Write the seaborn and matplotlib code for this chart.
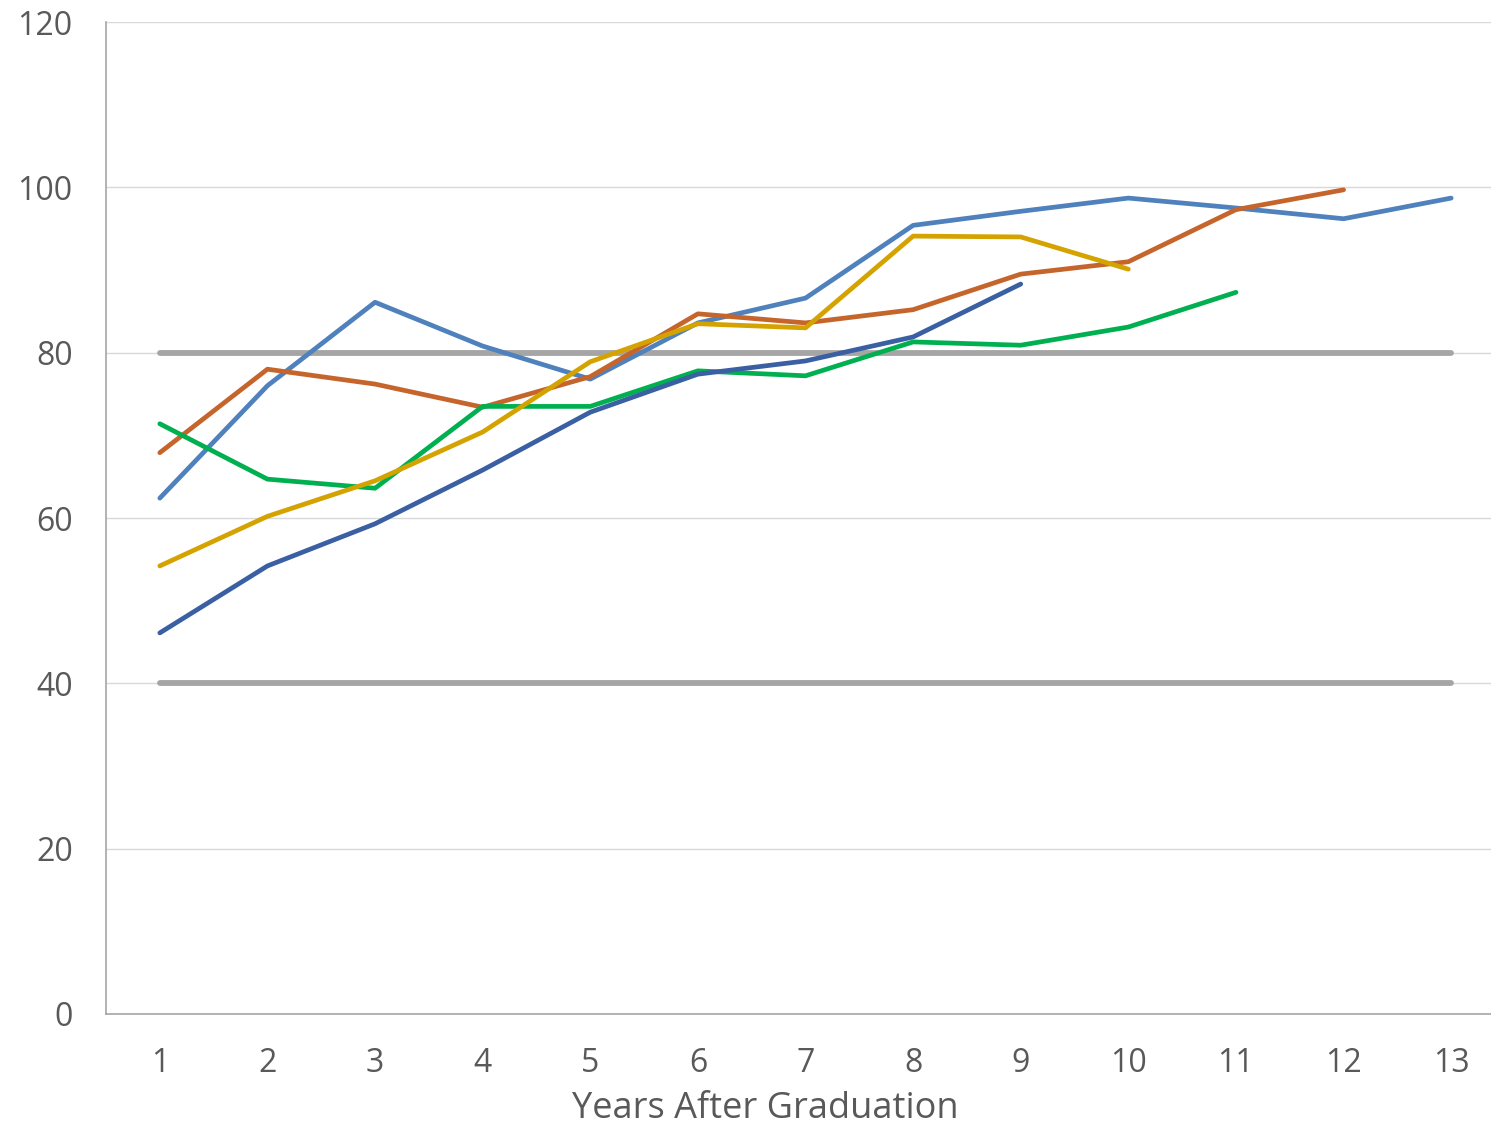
import pandas as pd
import seaborn as sns
import matplotlib.pyplot as plt

# valeurs
years = list(range(1, 14))
light_blue = [62.4, 76.0, 86.1, 80.8, 76.8, 83.6, 86.6, 95.4, 97.1, 98.7, 97.5, 96.2, 98.7]
orange = [67.9, 78.0, 76.2, 73.4, 77.1, 84.7, 83.6, 85.2, 89.5, 91.0, 97.3, 99.7]
green = [71.4, 64.7, 63.6, 73.5, 73.5, 77.8, 77.2, 81.3, 80.9, 83.1, 87.3]
gold = [54.2, 60.2, 64.5, 70.4, 78.9, 83.5, 83.0, 94.1, 94.0, 90.1]
dark_blue = [46.1, 54.2, 59.3, 65.8, 72.8, 77.4, 79.0, 81.9, 88.3]
upper_ref = [80] * 13
lower_ref = [40] * 13

series = {"A": light_blue, "B": orange, "C": green, "D": gold, "E": dark_blue}
palette = {"A": "#4F81BD", "B": "#C5652B", "C": "#00B050", "D": "#D4A300", "E": "#3A5FA3"}

rows = []
for name, vals in series.items():
    for yr, v in zip(years, vals):
        rows.append({"year": yr, "value": v, "serie": name})
df = pd.DataFrame(rows)

refs = pd.DataFrame({"year": years * 2, "value": upper_ref + lower_ref,
                     "ref": ["haut"] * 13 + ["bas"] * 13})

sns.set_style("white")
plt.rcParams["font.family"] = ["Open Sans", "DejaVu Sans"]

fig = plt.figure(figsize=(14.91, 11.29), dpi=100)
ax = fig.add_axes([106 / 1491, 1 - 1014 / 1129, (1491 - 106) / 1491, (1014 - 22) / 1129])

sns.lineplot(data=refs, x="year", y="value", units="ref", estimator=None,
             color="#A5A5A5", lw=4.2, ax=ax, solid_capstyle="round", legend=False)
sns.lineplot(data=df, x="year", y="value", hue="serie", palette=palette,
             lw=3.4, ax=ax, solid_capstyle="round", legend=False)

ax.set_xlim(0.5, 13.37)
ax.set_ylim(0, 120)
ax.set_xticks(years)
ax.set_yticks(range(0, 121, 20))
ax.yaxis.grid(True, color="#D9D9D9", lw=1)
ax.set_axisbelow(True)
for s in ["top", "right"]:
    ax.spines[s].set_visible(False)
for s in ["left", "bottom"]:
    ax.spines[s].set_color("#A6A6A6")
    ax.spines[s].set_linewidth(1.2)
ax.tick_params(axis="both", length=0, labelsize=23, labelcolor="#595959")
ax.tick_params(axis="y", pad=24)
ax.tick_params(axis="x", pad=24)
ax.set_xlabel("Years After Graduation", fontsize=26, color="#595959", labelpad=2)
ax.xaxis.set_label_coords((765 - 106) / 1385, -0.078)
ax.set_ylabel("")

plt.savefig("out.png", dpi=100)
